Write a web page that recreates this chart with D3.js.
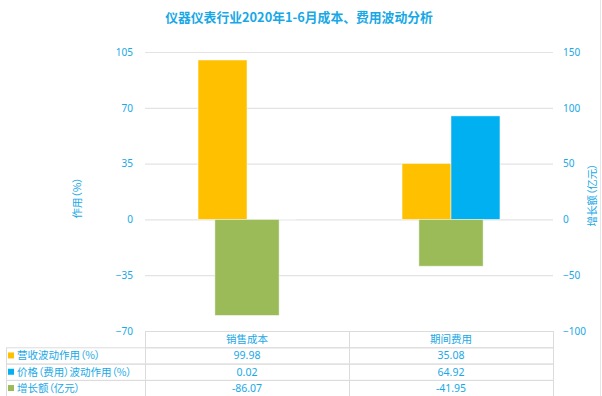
<!DOCTYPE html>
<html>
<head>
<meta charset="utf-8">
<script src="https://cdn.jsdelivr.net/npm/d3@7"></script>
<style>
  body { margin: 0; background: #fff; }
  text { font-family: "Noto Sans CJK SC", "Noto Sans", sans-serif; font-feature-settings: "palt"; }
  text.title { font-feature-settings: normal; }
</style>
</head>
<body>
<svg id="chart"></svg>
<script>
var categories = ["销售成本", "期间费用"];
var seriesNames = ["营收波动作用（%）", "价格（费用）波动作用（%）", "增长额（亿元）"];
var revenue = [99.98, 35.08];
var price = [0.02, 64.92];
var growth = [-86.07, -41.95];
var leftTicks = [-70, -35, 0, 35, 70, 105];
var rightTicks = [-100, -50, 0, 50, 100, 150];

var width = 602, height = 396;
var textColor = "#18a8e6";
var colors = ["#FFC000", "#00B0F0", "#9BBB59"];

var svg = d3.select("#chart")
    .attr("width", width)
    .attr("height", height);

var plotLeft = 145, plotRight = 553, plotTop = 52, plotBottom = 331;

var x0 = d3.scaleBand().domain(categories).range([plotLeft, plotRight]);
var clusterW = x0.bandwidth() * 0.48;
var x1 = d3.scaleBand().domain([0, 1]).range([0, clusterW]);
var greenW = x0.bandwidth() * 0.315;

var yLeft = d3.scaleLinear().domain([-70, 105]).range([plotBottom, plotTop]);
var yRight = d3.scaleLinear().domain([-100, 150]).range([plotBottom, plotTop]);

// title
svg.append("text")
    .attr("class", "title")
    .attr("x", 299).attr("y", 22)
    .attr("text-anchor", "middle")
    .attr("fill", textColor)
    .attr("font-size", 12.8)
    .attr("font-weight", "bold")
    .text("仪器仪表行业2020年1-6月成本、费用波动分析");

// gridlines
svg.append("g").selectAll("line")
    .data(leftTicks.filter(function(d) { return d !== -70; }))
    .enter().append("line")
    .attr("x1", plotLeft).attr("x2", plotRight)
    .attr("y1", function(d) { return yLeft(d) + 0.5; })
    .attr("y2", function(d) { return yLeft(d) + 0.5; })
    .attr("stroke", "#e3e3e3")
    .attr("stroke-width", 1.2);

// left axis
var leftAxis = svg.append("g")
    .attr("transform", "translate(" + (plotLeft - 12) + ",0)")
    .call(d3.axisLeft(yLeft).tickValues(leftTicks).tickSize(0).tickPadding(0));
leftAxis.select(".domain").remove();
leftAxis.selectAll("text")
    .attr("fill", textColor)
    .attr("font-size", 10)
    .style("font-family", "'Noto Sans', sans-serif");

// right axis
var rightAxis = svg.append("g")
    .attr("transform", "translate(" + (plotRight + 10) + ",0)")
    .call(d3.axisRight(yRight).tickValues(rightTicks).tickSize(0).tickPadding(0));
rightAxis.select(".domain").remove();
rightAxis.selectAll("text")
    .attr("fill", textColor)
    .attr("font-size", 10)
    .style("font-family", "'Noto Sans', sans-serif");

// axis titles
svg.append("text")
    .attr("transform", "translate(81,198) rotate(-90)")
    .attr("text-anchor", "middle")
    .attr("fill", textColor)
    .attr("font-size", 10.5)
    .text("作用（%）");

svg.append("text")
    .attr("transform", "translate(596,195) rotate(-90)")
    .attr("text-anchor", "middle")
    .attr("fill", textColor)
    .attr("font-size", 10.5)
    .text("增长额（亿元）");

// primary bars (clustered)
var primary = [revenue, price];
primary.forEach(function(vals, s) {
    svg.append("g").selectAll("rect")
        .data(vals)
        .enter().append("rect")
        .attr("x", function(d, i) {
            return x0(categories[i]) + x0.bandwidth() / 2 - clusterW / 2 + x1(s);
        })
        .attr("width", x1.bandwidth())
        .attr("y", function(d) { return yLeft(Math.max(0, d)); })
        .attr("height", function(d) { return Math.abs(yLeft(d) - yLeft(0)); })
        .attr("fill", colors[s])
        .attr("stroke", "#fff")
        .attr("stroke-opacity", 0.6)
        .attr("stroke-width", 0.8);
});

// secondary bars
svg.append("g").selectAll("rect")
    .data(growth)
    .enter().append("rect")
    .attr("x", function(d, i) { return x0(categories[i]) + x0.bandwidth() / 2 - greenW / 2; })
    .attr("width", greenW)
    .attr("y", function(d) { return yRight(Math.max(0, d)); })
    .attr("height", function(d) { return Math.abs(yRight(d) - yRight(0)); })
    .attr("fill", colors[2])
    .attr("stroke", "#fff")
    .attr("stroke-opacity", 0.6)
    .attr("stroke-width", 0.8);

// data table
var rowH = 16.3;
var tableTop = 331;
var labelLeft = 6;
var gridColor = "#dcdcdc";
var tbl = svg.append("g");
var tableRows = [revenue, price, growth];

// header cells
tbl.selectAll(".hdr")
    .data(categories)
    .enter().append("rect")
    .attr("x", function(d) { return x0(d) + 0.5; })
    .attr("y", tableTop + 0.5)
    .attr("width", x0.bandwidth())
    .attr("height", rowH)
    .attr("fill", "none")
    .attr("stroke", gridColor);

tbl.selectAll(".hdrText")
    .data(categories)
    .enter().append("text")
    .attr("x", function(d) { return x0(d) + x0.bandwidth() / 2; })
    .attr("y", tableTop + rowH / 2 + 4)
    .attr("text-anchor", "middle")
    .attr("fill", textColor)
    .attr("font-size", 10.5)
    .text(function(d) { return d; });

tableRows.forEach(function(vals, r) {
    var y = tableTop + rowH * (r + 1);
    tbl.append("rect")
        .attr("x", labelLeft + 0.5).attr("y", y + 0.5)
        .attr("width", plotRight - labelLeft).attr("height", rowH)
        .attr("fill", "none").attr("stroke", gridColor);
    tbl.append("line")
        .attr("x1", plotLeft + 0.5).attr("x2", plotLeft + 0.5)
        .attr("y1", y).attr("y2", y + rowH)
        .attr("stroke", gridColor);
    tbl.append("line")
        .attr("x1", x0(categories[1]) + 0.5).attr("x2", x0(categories[1]) + 0.5)
        .attr("y1", y).attr("y2", y + rowH)
        .attr("stroke", gridColor);
    tbl.append("rect")
        .attr("x", 8).attr("y", y + rowH / 2 - 3)
        .attr("width", 6).attr("height", 6)
        .attr("fill", colors[r]);
    tbl.append("text")
        .attr("x", 17).attr("y", y + rowH / 2 + 4)
        .attr("fill", textColor)
        .attr("font-size", 10.5)
        .text(seriesNames[r]);
    tbl.selectAll(".v" + r)
        .data(vals)
        .enter().append("text")
        .attr("x", function(d, i) { return x0(categories[i]) + x0.bandwidth() / 2; })
        .attr("y", y + rowH / 2 + 4)
        .attr("text-anchor", "middle")
        .attr("fill", textColor)
        .attr("font-size", 10.5)
        .style("font-family", "'Noto Sans', sans-serif")
        .text(function(d) { return d.toFixed(2); });
});

// outer border lines
svg.append("line")
    .attr("x1", 600.5).attr("x2", 600.5).attr("y1", 0).attr("y2", height)
    .attr("stroke", "#e6e6e6");
</script>
</body>
</html>
